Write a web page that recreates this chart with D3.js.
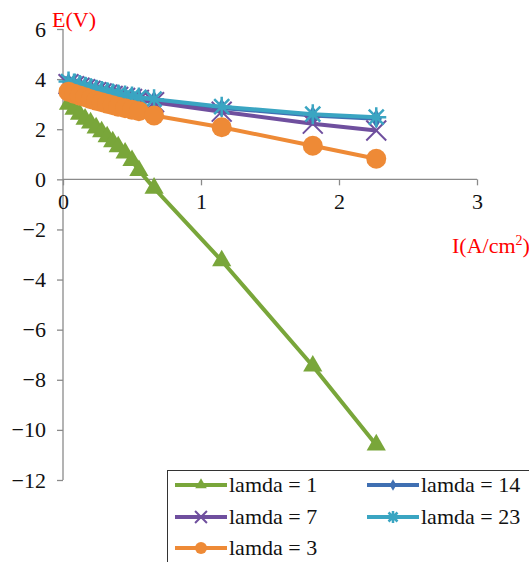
<!DOCTYPE html>
<html>
<head>
<meta charset="utf-8">
<script src="https://cdn.jsdelivr.net/npm/d3@7"></script>
<style>
  html, body { margin: 0; padding: 0; background: #fff; }
  svg { display: block; }
</style>
</head>
<body>
<div id="chart"></div>
<script>
// ---- data ----
const currents = [0.04, 0.08, 0.12, 0.16, 0.20, 0.24, 0.28, 0.32, 0.36, 0.40, 0.45, 0.50, 0.55, 0.66, 1.15, 1.81, 2.27];
const lamda1  = [3.0, 2.8, 2.6, 2.4, 2.25, 2.05, 1.9, 1.7, 1.5, 1.3, 1.05, 0.75, 0.35, -0.35, -3.25, -7.45, -10.6];
const lamda14 = [3.85, 3.78, 3.72, 3.66, 3.6, 3.54, 3.49, 3.44, 3.39, 3.35, 3.31, 3.27, 3.23, 3.16, 2.85, 2.55, 2.42];
const lamda7  = [3.8, 3.72, 3.66, 3.6, 3.54, 3.48, 3.43, 3.38, 3.33, 3.29, 3.25, 3.21, 3.17, 3.08, 2.7, 2.22, 1.95];
const lamda23 = [3.9, 3.82, 3.76, 3.7, 3.64, 3.58, 3.53, 3.48, 3.43, 3.39, 3.35, 3.31, 3.27, 3.2, 2.9, 2.6, 2.48];
const lamda3  = [3.5, 3.42, 3.35, 3.28, 3.2, 3.14, 3.08, 3.02, 2.96, 2.9, 2.84, 2.78, 2.72, 2.55, 2.08, 1.34, 0.82];
const seriesNames = ["lamda = 1", "lamda = 14", "lamda = 7", "lamda = 23", "lamda = 3"];
const xTicks = [0, 1, 2, 3];
const yTicks = [6, 4, 2, 0, -2, -4, -6, -8, -10, -12];

const seriesValues = [lamda1, lamda14, lamda7, lamda23, lamda3];
const colors = ["#79a63a", "#3f6fb2", "#6f4f9e", "#3aa5c2", "#ee8a36"];
const markers = ["triangle", "diamond", "times", "star", "circle"];

const FONT = "'Liberation Serif', 'Times New Roman', Times, serif";
const W = 529, H = 562;
const svg = d3.select("#chart").append("svg").attr("width", W).attr("height", H)
  .style("font-family", FONT);

const x = d3.scaleLinear().domain([0, 3]).range([63, 477]);
const y = d3.scaleLinear().domain([-12, 6]).range([480, 29]);

// axes
const axisColor = "#8a8a8a";
const yAxis = svg.append("g").attr("transform", `translate(${x(0)},0)`)
  .call(d3.axisLeft(y).tickValues(yTicks).tickSize(6).tickPadding(10)
        .tickFormat(d => d < 0 ? "\u2212" + Math.abs(d) : String(d)));
const xAxis = svg.append("g").attr("transform", `translate(0,${y(0)})`)
  .call(d3.axisBottom(x).tickValues(xTicks).tickSize(6).tickPadding(8)
        .tickFormat(d3.format("d")));
[yAxis, xAxis].forEach(g => {
  g.attr("font-family", null).style("font-family", FONT);
  g.select(".domain").attr("stroke", axisColor).attr("stroke-width", 1.3);
  g.selectAll(".tick line").attr("stroke", axisColor).attr("stroke-width", 1.3);
  g.selectAll(".tick text").attr("fill", "#111").attr("font-size", 22)
    .style("font-family", FONT);
});
xAxis.select(".domain").attr("d", `M${x(0)},0H${x(3)}`);
yAxis.select(".domain").attr("d", `M0,${y(6)}V${y(-12)}`);
yAxis.selectAll(".tick text").attr("x", -17);

// axis titles
svg.append("text").attr("x", 52).attr("y", 27).attr("fill", "#ff0000")
  .attr("font-size", 22).style("font-family", FONT).text("E(V)");
const xt = svg.append("text").attr("x", 452).attr("y", 253).attr("fill", "#ff0000")
  .attr("font-size", 22).style("font-family", FONT);
xt.append("tspan").text("I(A/cm");
xt.append("tspan").attr("font-size", 14).attr("dy", -8).text("2");
xt.append("tspan").attr("dy", 8).text(")");

// marker drawing
function drawMarker(g, type, color, cx, cy, scale) {
  scale = scale || 1;
  if (type === "triangle") {
    g.append("path").attr("d", d3.symbol().type(d3.symbolTriangle).size(160 * scale * scale)())
      .attr("transform", `translate(${cx},${cy})`).attr("fill", color);
  } else if (type === "circle") {
    g.append("circle").attr("cx", cx).attr("cy", cy).attr("r", 10 * scale).attr("fill", color);
  } else if (type === "diamond") {
    g.append("path").attr("d", d3.symbol().type(d3.symbolDiamond).size(110 * scale * scale)())
      .attr("transform", `translate(${cx},${cy})`).attr("fill", color);
  } else if (type === "times") {
    g.append("path").attr("d", d3.symbol().type(d3.symbolTimes).size(260 * scale * scale)())
      .attr("transform", `translate(${cx},${cy})`).attr("fill", "none")
      .attr("stroke", color).attr("stroke-width", 2);
  } else if (type === "star") {
    const r = 10 * scale;
    const p = d3.path();
    p.moveTo(-r * 0.75, -r * 0.75); p.lineTo(r * 0.75, r * 0.75);
    p.moveTo(r * 0.75, -r * 0.75); p.lineTo(-r * 0.75, r * 0.75);
    p.moveTo(0, -r); p.lineTo(0, r);
    p.moveTo(-r, 0); p.lineTo(r, 0);
    g.append("path").attr("d", p.toString()).attr("transform", `translate(${cx},${cy})`)
      .attr("fill", "none").attr("stroke", color).attr("stroke-width", 2.5);
  }
}

// series
const line = d3.line().x(d => x(d[0])).y(d => y(d[1]));
seriesValues.forEach((vals, i) => {
  const pts = currents.map((c, j) => [c, vals[j]]);
  const g = svg.append("g");
  g.append("path").datum(pts).attr("d", line).attr("fill", "none")
    .attr("stroke", colors[i]).attr("stroke-width", 4).attr("stroke-linejoin", "round");
  pts.forEach(p => drawMarker(g, markers[i], colors[i], x(p[0]), y(p[1])));
});

// legend
const lg = svg.append("g");
lg.append("rect").attr("x", 167.5).attr("y", 470.5).attr("width", 400).attr("height", 120)
  .attr("fill", "#fff").attr("stroke", "#333").attr("stroke-width", 1);
const legendPos = [[175, 485], [367, 485], [175, 517], [367, 517], [175, 548]];
seriesNames.forEach((name, i) => {
  const [lx, ly] = legendPos[i];
  lg.append("line").attr("x1", lx).attr("x2", lx + 52).attr("y1", ly).attr("y2", ly)
    .attr("stroke", colors[i]).attr("stroke-width", 4);
  drawMarker(lg, markers[i], colors[i], lx + 26, ly, 0.6);
  lg.append("text").attr("x", lx + 54).attr("y", ly + 7).attr("font-size", 22)
    .style("font-family", FONT).attr("fill", "#111").text(name);
});
</script>
</body>
</html>
